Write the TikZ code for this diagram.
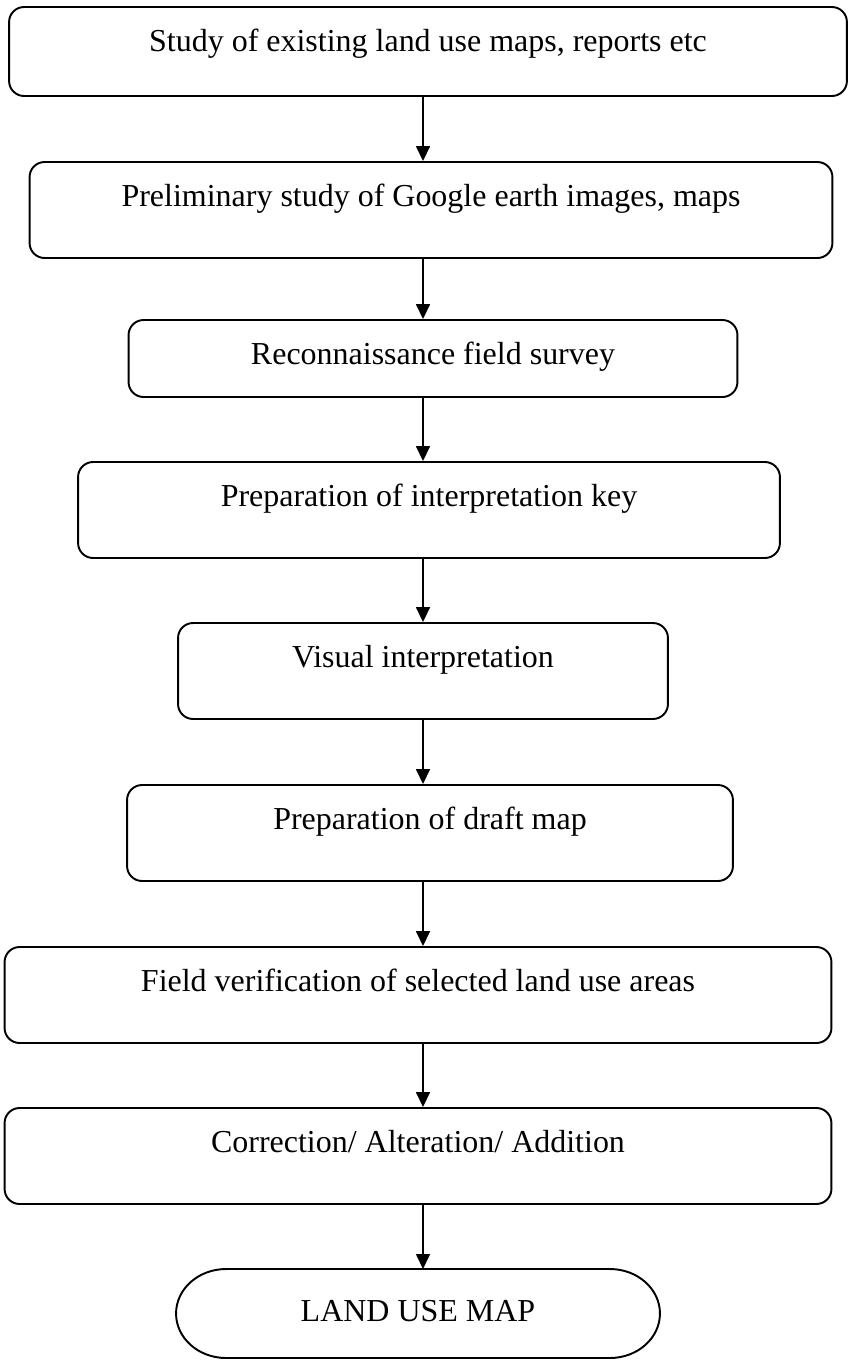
\documentclass[tikz,border=0pt]{standalone}
\usepackage{fontspec}
\setmainfont{Liberation Serif}
\usetikzlibrary{arrows.meta}

\tikzset{
  stepbox/.style={draw, rounded corners=0.3cm, line width=1.1pt, anchor=base,
    inner xsep=0pt, inner ysep=0pt, text height=0.88cm, text depth=1.04cm,
    font=\fontsize{18.2}{21}\selectfont},
}

\begin{document}
\begin{tikzpicture}[x=0.02cm, y=-0.02cm, >={Triangle[length=0.3cm, width=0.28cm]}]
  \useasboundingbox (0,0) rectangle (853,1360);
  % axis of the connectors
  \coordinate (axis) at (423,0);
  % steps
  \node[stepbox, minimum width=16.76cm, text depth=0.9cm] (exist) at (428,51) {Study of existing land use maps, reports etc};
  \node[stepbox, minimum width=16.06cm] (prelim) at (431,206) {Preliminary study of Google earth images, maps};
  \node[stepbox, minimum width=12.18cm, text depth=0.66cm] (recon) at (433,364) {Reconnaissance field survey};
  \node[stepbox, minimum width=14.04cm] (key) at (429,506) {Preparation of interpretation key};
  \node[stepbox, minimum width=9.8cm] (visual) at (423,667) {Visual interpretation};
  \node[stepbox, minimum width=12.12cm] (draft) at (430,829) {Preparation of draft map};
  \node[stepbox, minimum width=16.54cm] (verif) at (418,991) {Field verification of selected land use areas};
  \node[stepbox, minimum width=16.54cm] (corr) at (418,1152) {Correction/ Alteration/ Addition};
  % end of the chart
  \node[stepbox, draw=none, outer sep=0pt, minimum width=9.68cm, text height=1.04cm, text depth=0.74cm] (landmap) at (418,1321) {LAND USE MAP};
  \draw[line width=1.1pt] ([xshift=1cm]landmap.north west) -- ([xshift=-1cm]landmap.north east)
    arc[start angle=90, end angle=-90, x radius=1cm, y radius=0.89cm]
    -- ([xshift=1cm]landmap.south west)
    arc[start angle=270, end angle=90, x radius=1cm, y radius=0.89cm] -- cycle;
  % connectors
  \foreach \a/\b in {exist/prelim, prelim/recon, recon/key, key/visual, visual/draft, draft/verif, verif/corr, corr/landmap}
    \draw[->, line width=0.9pt] (\a.south -| axis) -- (\b.north -| axis);
\end{tikzpicture}
\end{document}
